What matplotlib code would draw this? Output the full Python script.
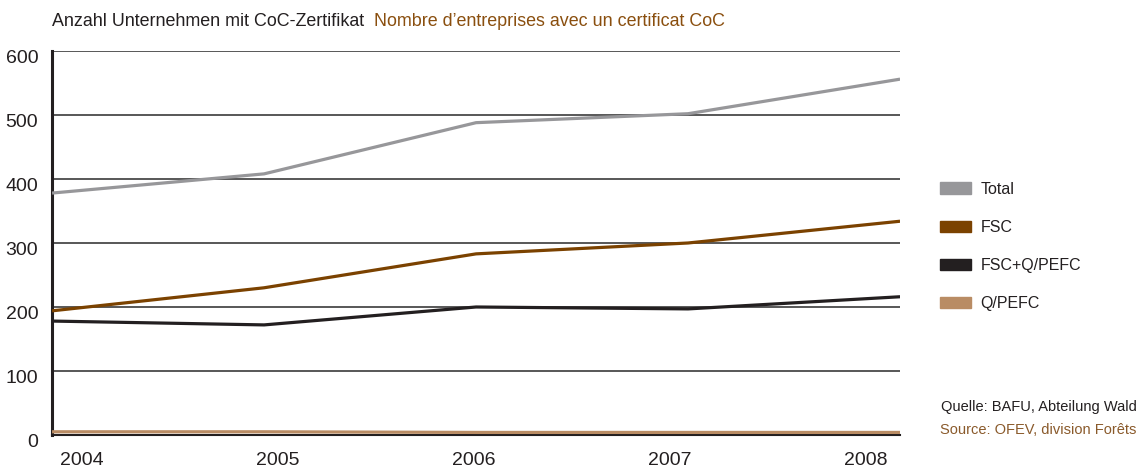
import numpy as np
from matplotlib import pyplot as plt
from matplotlib.patches import Patch
from matplotlib.transforms import ScaledTranslation

plt.rcParams['font.family'] = ['Liberation Sans', 'DejaVu Sans']

years = [2004, 2005, 2006, 2007, 2008]
total = [378, 408, 488, 502, 556]
fsc = [194, 230, 283, 300, 334]
fsc_qpefc = [178, 172, 200, 197, 216]
qpefc = [5, 5, 4, 4, 4]

series = [('Total', total, '#97979a'),
          ('FSC', fsc, '#7b4200'),
          ('FSC+Q/PEFC', fsc_qpefc, '#231f20'),
          ('Q/PEFC', qpefc, '#b98c64')]

fig = plt.figure(figsize=(11.39, 4.70), dpi=100)
ax = fig.add_axes([0.0457, 0.0745, 0.7445, 0.817])

for y in range(100, 700, 100):
    ax.axhline(y, color='#2a2a2a', lw=1.1, zorder=1)

for name, vals, col in series:
    ax.plot(years, vals, color=col, lw=2.3, solid_capstyle='butt', zorder=3)

ax.set_xlim(2004, 2008)
ax.set_ylim(0, 600)
for s in ['top', 'right']:
    ax.spines[s].set_visible(False)
ax.spines['left'].set_linewidth(2.2)
ax.spines['bottom'].set_linewidth(1.5)
ax.spines['left'].set_color('#231f20')
ax.spines['bottom'].set_color('#231f20')

# y labels sit a little below their gridlines
ax.set_yticks(range(0, 700, 100))
ax.tick_params(axis='y', length=0, pad=10, labelsize=14, labelcolor='#231f20')
shift = ScaledTranslation(0, -4 / 72, fig.dpi_scale_trans)
for lbl in ax.get_yticklabels():
    lbl.set_transform(lbl.get_transform() + shift)
ax.set_xticks(np.linspace(2004.14, 2007.84, 5))
ax.set_xticklabels([str(y) for y in years])
ax.tick_params(axis='x', length=0, pad=12.5, labelsize=14, labelcolor='#231f20')

t1 = fig.text(0.0457, 0.955, 'Anzahl Unternehmen mit CoC-Zertifikat', fontsize=12.9,
              color='#231f20', va='center')
ax.annotate('Nombre d\u2019entreprises avec un certificat CoC', xy=(1, 0.5), xycoords=t1,
            xytext=(7, 0), textcoords='offset points', fontsize=12.9,
            color='#8a4f0f', va='center', ha='left', annotation_clip=False)

handles = [Patch(color=col, label=name) for name, vals, col in series]
fig.legend(handles=handles, loc='center left', bbox_to_anchor=(0.8125, 0.476),
           frameon=False, fontsize=11.5, handlelength=1.95, handleheight=0.7,
           labelspacing=1.45, handletextpad=0.6, labelcolor='#231f20')

fig.text(0.998, 0.133, 'Quelle: BAFU, Abteilung Wald', fontsize=10.5, color='#231f20',
         va='center', ha='right')
fig.text(0.998, 0.085, 'Source: OFEV, division For\u00eats', fontsize=10.5, color='#8a5a2b',
         va='center', ha='right')

fig.savefig('out.png', dpi=100)
